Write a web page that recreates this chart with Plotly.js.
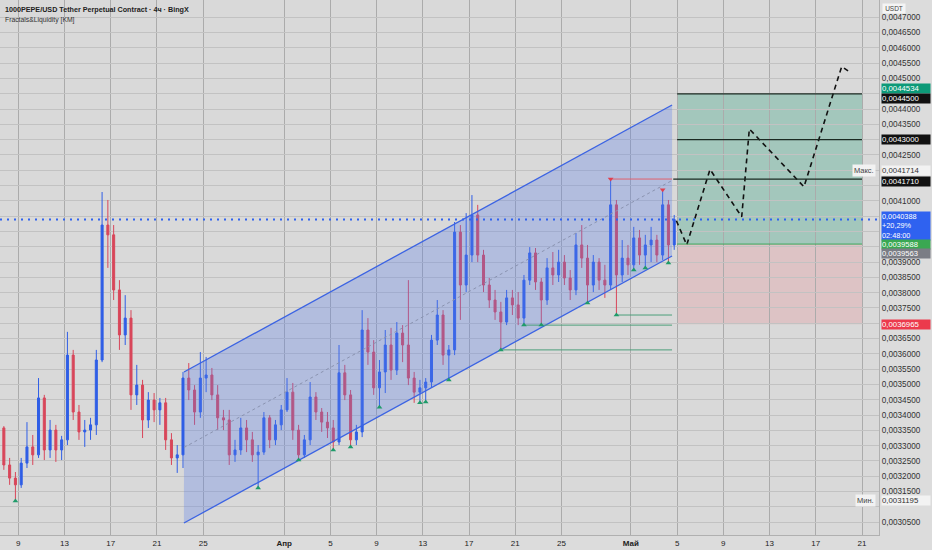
<!DOCTYPE html>
<html>
<head>
<meta charset="utf-8">
<script src="https://cdn.plot.ly/plotly-3.0.1.min.js"></script>
<style>
  html, body { margin: 0; padding: 0; background: #dcdcdc; }
  #chart { width: 932px; height: 550px; }
</style>
</head>
<body>
<div id="chart"></div>
<script>
// ---- 12h candles (first candle centred on 2025-03-07 18:00) ----
const candleStart = '2025-03-07 18:00';
const candleHours = 12;

const o = [
0.003358,0.003237,0.003194,0.003172,0.003243,0.003296,0.003270,0.003456,0.003286,0.003351,
0.003286,0.003319,0.003596,0.003410,0.003345,0.003351,0.003368,0.003580,0.004021,0.003989,
0.003809,0.003662,0.003717,0.003466,0.003498,0.003384,0.003449,0.003417,0.003440,0.003319,
0.003260,0.003270,0.003521,0.003482,0.003410,0.003521,0.003531,0.003466,0.003391,0.003384,
0.003270,0.003286,0.003358,0.003319,0.003270,0.003279,0.003391,0.003319,0.003368,0.003417,
0.003475,0.003351,0.003270,0.003319,0.003459,0.003410,0.003377,0.003358,0.003312,0.003538,
0.003466,0.003319,0.003345,0.003678,0.003606,0.003489,0.003541,0.003629,0.003547,0.003668,
0.003629,0.003521,0.003475,0.003489,0.003508,0.003645,0.003727,0.003596,0.003613,0.003998,
0.003825,0.003923,0.004054,0.003923,0.003825,0.003776,0.003737,0.003704,0.003783,0.003760,
0.003717,0.003841,0.003930,0.003835,0.003776,0.003881,0.003858,0.003900,0.003848,0.003809,
0.003956,0.003913,0.003825,0.003900,0.003841,0.003825,0.004087,0.003858,0.003913,0.003891,
0.003979,0.003923,0.003956,0.003972,0.003923,0.004087,0.003956];
const h = [
0.003364,0.003260,0.003214,0.003260,0.003377,0.003335,0.003521,0.003466,0.003384,0.003368,
0.003332,0.003672,0.003613,0.003433,0.003384,0.003391,0.003613,0.004129,0.004103,0.004021,
0.003841,0.003792,0.003743,0.003564,0.003515,0.003475,0.003472,0.003456,0.003456,0.003341,
0.003302,0.003541,0.003570,0.003498,0.003606,0.003590,0.003554,0.003498,0.003417,0.003417,
0.003319,0.003391,0.003384,0.003345,0.003302,0.003410,0.003400,0.003384,0.003433,0.003521,
0.003505,0.003368,0.003335,0.003508,0.003475,0.003423,0.003410,0.003384,0.003629,0.003564,
0.003482,0.003368,0.003743,0.003717,0.003645,0.003580,0.003678,0.003685,0.003704,0.003694,
0.003841,0.003541,0.003515,0.003521,0.003662,0.003776,0.003743,0.003629,0.004031,0.004021,
0.004060,0.004119,0.004087,0.003940,0.003848,0.003809,0.003770,0.003809,0.003809,0.003802,
0.003858,0.003949,0.003946,0.003848,0.003913,0.003933,0.003940,0.003923,0.003874,0.003995,
0.004021,0.003956,0.003923,0.003913,0.003891,0.0041714,0.004103,0.003972,0.003956,0.004015,
0.004005,0.003989,0.004015,0.003989,0.004136,0.004103,0.004054];
const l = [
0.003221,0.003172,0.0031195,0.003162,0.003227,0.003237,0.003260,0.003253,0.003260,0.003247,
0.003253,0.003302,0.003384,0.003319,0.003296,0.003319,0.003335,0.003573,0.003881,0.003776,
0.003613,0.003629,0.003417,0.003433,0.003325,0.003358,0.003377,0.003368,0.003286,0.003237,
0.003211,0.003227,0.003449,0.003368,0.003391,0.003475,0.003449,0.003351,0.003351,0.003237,
0.003247,0.003270,0.003279,0.003247,0.003162,0.003270,0.003292,0.003302,0.003351,0.003410,
0.003319,0.003253,0.003260,0.003302,0.003384,0.003345,0.003325,0.003286,0.003302,0.003449,
0.003296,0.003302,0.003328,0.003564,0.003466,0.003426,0.003472,0.003515,0.003531,0.003573,
0.003498,0.003440,0.003440,0.003443,0.003489,0.003629,0.003564,0.003515,0.003596,0.003711,
0.003802,0.003900,0.003900,0.003802,0.003750,0.003711,0.003613,0.003694,0.003727,0.003694,
0.003694,0.003825,0.003809,0.003694,0.003760,0.003825,0.003835,0.003825,0.003776,0.003792,
0.003881,0.003766,0.003802,0.003809,0.003783,0.003809,0.003727,0.003835,0.003858,0.003874,
0.003891,0.003881,0.003900,0.003900,0.003907,0.003897,0.003940];
const c = [
0.003237,0.003194,0.003172,0.003243,0.003296,0.003270,0.003456,0.003286,0.003351,0.003286,
0.003319,0.003596,0.003410,0.003345,0.003351,0.003368,0.003580,0.004021,0.003989,0.003809,
0.003662,0.003717,0.003466,0.003498,0.003384,0.003449,0.003417,0.003440,0.003319,0.003260,
0.003270,0.003521,0.003482,0.003410,0.003521,0.003531,0.003466,0.003391,0.003384,0.003270,
0.003286,0.003358,0.003319,0.003270,0.003279,0.003391,0.003319,0.003368,0.003417,0.003475,
0.003351,0.003270,0.003319,0.003459,0.003410,0.003377,0.003358,0.003312,0.003538,0.003466,
0.003319,0.003345,0.003678,0.003606,0.003489,0.003541,0.003629,0.003547,0.003668,0.003629,
0.003521,0.003475,0.003489,0.003508,0.003645,0.003727,0.003596,0.003613,0.003998,0.003825,
0.003923,0.004054,0.003923,0.003825,0.003776,0.003737,0.003704,0.003783,0.003760,0.003717,
0.003841,0.003930,0.003835,0.003776,0.003881,0.003858,0.003900,0.003848,0.003809,0.003956,
0.003913,0.003825,0.003900,0.003841,0.003825,0.004087,0.003858,0.003913,0.003891,0.003979,
0.003923,0.003956,0.003972,0.003923,0.004087,0.003956,0.0040388];

// fractal markers (indices of candles)
const fractalLows = [2, 44, 51, 57, 60, 65, 72, 73, 77, 86, 90, 93, 101, 106, 109, 111, 115];
const fractalHighs = [105, 114];
const liquidityLows = [86, 90, 106];
const liquidityHighs = [105];

// parallel channel
const channelX = ['2025-03-23 08:00', '2025-05-04 13:30'];
const channelUpper = [0.0035408, 0.0044134];
const channelLower = [0.0030473, 0.0039199];
const channelMid = [0.0032940, 0.0041667];

// long position
const longStart = '2025-05-05 00:00';
const longEnd = '2025-05-21 00:00';
const entryPrice = 0.0039588;
const targetPrice = 0.0044500;
const stopPrice = 0.0036965;
const levelPrices = [0.0044500, 0.0043000, 0.0041710];

// projected path
const pathX = ['2025-05-04 22:30','2025-05-05 20:00','2025-05-07 20:20','2025-05-10 14:10','2025-05-11 06:00','2025-05-15 23:30','2025-05-19 05:45','2025-05-19 19:00'];
const pathY = [0.004035, 0.003956, 0.004203, 0.004048, 0.004335, 0.004146, 0.004539, 0.004525];

const lastPrice = 0.0040388;

// axis ticks
const tickDates = ['2025-03-09','2025-03-13','2025-03-17','2025-03-21','2025-03-25','2025-04-01','2025-04-05','2025-04-09','2025-04-13','2025-04-17','2025-04-21','2025-04-25','2025-05-01','2025-05-05','2025-05-09','2025-05-13','2025-05-17','2025-05-21'];
const tickLabels = ['9','13','17','21','25','<b>Апр</b>','5','9','13','17','21','25','<b>Май</b>','5','9','13','17','21'];
const priceTicks = [0.00305,0.00310,0.00315,0.00320,0.00325,0.00330,0.00335,0.00340,0.00345,0.00350,
  0.00355,0.00360,0.00365,0.00370,0.00375,0.00380,0.00385,0.00390,0.00395,0.00400,
  0.00405,0.00410,0.00415,0.00420,0.00425,0.00430,0.00435,0.00440,0.00445,0.00450,
  0.00455,0.00460,0.00465,0.00470];
// tick labels hidden behind the price labels on the scale
const coveredTicks = [0.00310, 0.00370, 0.00395, 0.00400, 0.00405, 0.00415, 0.00430, 0.00445];

// ---- build ----
function fmt(ms) {
  return new Date(ms).toISOString().slice(0, 16).replace('T', ' ');
}
const t0 = Date.parse(candleStart.replace(' ', 'T') + ':00Z');
const times = o.map((_, i) => fmt(t0 + i * candleHours * 3600000));
const priceTickText = priceTicks.map(p =>
  coveredTicks.some(q => Math.abs(q - p) < 1e-9) ? '' : p.toFixed(7).replace('.', ','));

const traces = [];
traces.push({
  type: 'scatter', mode: 'lines',
  x: [channelX[0], channelX[1], channelX[1], channelX[0], channelX[0]],
  y: [channelLower[0], channelLower[1], channelUpper[1], channelUpper[0], channelLower[0]],
  fill: 'toself', fillcolor: 'rgba(90,125,235,0.30)',
  line: {width: 0}, hoverinfo: 'skip'
});
traces.push({type:'scatter', mode:'lines', x: channelX, y: channelUpper, line:{color:'#3b63e3', width:1.3}, hoverinfo:'skip'});
traces.push({type:'scatter', mode:'lines', x: channelX, y: channelLower, line:{color:'#3b63e3', width:1.3}, hoverinfo:'skip'});
traces.push({type:'scatter', mode:'lines', x: channelX, y: channelMid, line:{color:'#8a93b0', width:1, dash:'3px,3px'}, hoverinfo:'skip'});

liquidityLows.forEach(i => traces.push({
  type:'scatter', mode:'lines', x:[times[i], channelX[1]], y:[l[i], l[i]],
  line:{color:'#4c9f7a', width:1}, hoverinfo:'skip'
}));
liquidityHighs.forEach(i => traces.push({
  type:'scatter', mode:'lines', x:[times[i], channelX[1]], y:[h[i], h[i]],
  line:{color:'#e0606e', width:1}, hoverinfo:'skip'
}));

traces.push({
  type: 'candlestick', x: times, open: o, high: h, low: l, close: c,
  increasing: {line: {color: '#2f5ee6', width: 1}, fillcolor: '#2f5ee6'},
  decreasing: {line: {color: '#d8465a', width: 1}, fillcolor: '#d8465a'},
  whiskerwidth: 0, hoverinfo: 'skip'
});

traces.push({
  type:'scatter', mode:'markers',
  x: fractalLows.map(i => times[i]), y: fractalLows.map(i => l[i]),
  marker:{symbol:'triangle-up', size:5, color:'#1f9b6a'}, hoverinfo:'skip'
});
traces.push({
  type:'scatter', mode:'markers',
  x: fractalHighs.map(i => times[i]), y: fractalHighs.map(i => h[i]),
  marker:{symbol:'triangle-down', size:5, color:'#e0404f'}, hoverinfo:'skip'
});

traces.push({
  type:'scatter', mode:'lines', x: pathX, y: pathY,
  line:{color:'#111', width:1.6, dash:'5px,4px'}, hoverinfo:'skip'
});

const shapes = [
  {type:'rect', layer:'below', xref:'x', yref:'y', x0:longStart, x1:longEnd, y0:entryPrice, y1:targetPrice,
   fillcolor:'rgba(20,150,110,0.27)', line:{width:0}},
  {type:'rect', layer:'below', xref:'x', yref:'y', x0:longStart, x1:longEnd, y0:stopPrice, y1:entryPrice,
   fillcolor:'rgba(240,80,95,0.16)', line:{width:0}},
  {type:'line', xref:'x', yref:'y', x0:longStart, x1:longEnd, y0:entryPrice, y1:entryPrice, line:{color:'#3aa85a', width:1}},
  {type:'line', xref:'paper', yref:'y', x0:0, x1:1, y0:lastPrice, y1:lastPrice, line:{color:'#2f62f0', width:2, dash:'2px,5px'}}
];
levelPrices.forEach((p, i) => shapes.push({
  type:'line', xref:'x', yref:'y', x0: i === 2 ? '2025-05-04 16:00' : longStart, x1:longEnd, y0:p, y1:p,
  line:{color:'#1b2a22', width:1.2}
}));

const FONT = 'Liberation Sans, Arial, sans-serif';
function axisLabel(y, text, bg, col, yshift, size) {
  return {xref:'paper', yref:'y', x:1, y:y, xanchor:'left', yanchor:'middle', xshift:2, yshift:yshift||0,
    text:text, showarrow:false, align:'left', width:48, bgcolor:bg, borderpad:0,
    font:{family:FONT, size:size||7.8, color:col}};
}
const annotations = [
  {xref:'paper', yref:'paper', x:0, y:1, xanchor:'left', yanchor:'top', xshift:3, yshift:-3, showarrow:false,
   text:'<b>1000PEPE/USD Tether Perpetual Contract · 4ч · BingX</b>', font:{family:FONT, size:7.2, color:'#222'}},
  {xref:'paper', yref:'paper', x:0, y:1, xanchor:'left', yanchor:'top', xshift:3, yshift:-14, showarrow:false,
   text:'Fractals&Liquidity [KM]', font:{family:FONT, size:6.8, color:'#333'}},
  {xref:'paper', yref:'paper', x:1, y:1, xanchor:'left', yanchor:'top', xshift:3, yshift:-3, showarrow:false,
   text:'USDT', width:20, bgcolor:'#f4f4f4', borderpad:1, font:{family:FONT, size:6.5, color:'#444'}},
  axisLabel(0.0044534, '0,0044534', '#0d9a78', '#fff', 4),
  axisLabel(0.0044500, '0,0044500', '#111', '#fff', -5),
  axisLabel(0.0043000, '0,0043000', '#111', '#fff', 0),
  axisLabel(0.0041714, '0,0041714', '#f2f2f2', '#333', 9),
  axisLabel(0.0041710, '0,0041710', '#111', '#fff', -2),
  axisLabel(lastPrice, '0,0040388<br>+20,29%<br>02:48:00', '#2f62f0', '#fff', -6, 7.3),
  axisLabel(entryPrice, '0,0039588', '#3aa852', '#fff', 0, 7.6),
  axisLabel(0.0039563, '0,0039563', '#7b7d85', '#fff', -8.5, 7.6),
  axisLabel(stopPrice, '0,0036965', '#ec3a4c', '#fff', 0),
  axisLabel(0.0031195, '0,0031195', '#f2f2f2', '#333', 0),
  {xref:'paper', yref:'y', x:1, y:0.0041714, yshift:9, xanchor:'right', xshift:-3, showarrow:false,
   text:'Макс.', bgcolor:'#f2f2f2', borderpad:1, font:{family:FONT, size:7.5, color:'#444'}},
  {xref:'paper', yref:'y', x:1, y:0.0031195, xanchor:'right', xshift:-3, showarrow:false,
   text:'Мин.', bgcolor:'#f2f2f2', borderpad:1, font:{family:FONT, size:7.5, color:'#444'}}
];

const layout = {
  width: 932, height: 550,
  margin: {l: 0, r: 53, t: 0, b: 15, pad: 0},
  paper_bgcolor: '#dcdcdc',
  plot_bgcolor: '#d9d9d9',
  separators: ', ',
  showlegend: false,
  boxgap: 0.5,
  font: {family: FONT},
  xaxis: {
    type: 'date', range: ['2025-03-07 10:00', '2025-05-22 11:15'],
    tickvals: tickDates, ticktext: tickLabels,
    tickfont: {family: FONT, size: 8, color: '#222'},
    showgrid: true, gridcolor: '#ababab', gridwidth: 1,
    zeroline: false, showline: true, linecolor: '#b0b0b0', ticks: '',
    rangeslider: {visible: false}, fixedrange: true
  },
  yaxis: {
    side: 'right', range: [0.0030081, 0.0047565],
    tickmode: 'array', tickvals: priceTicks, ticktext: priceTickText,
    tickfont: {family: FONT, size: 8.2, color: '#333'},
    showgrid: true, gridcolor: '#c2c2c2', gridwidth: 1,
    zeroline: false, showline: true, linecolor: '#b0b0b0', ticks: '', ticklen: 0,
    fixedrange: true
  },
  shapes: shapes,
  annotations: annotations
};

Plotly.newPlot('chart', traces, layout, {staticPlot: true, displayModeBar: false});
</script>
</body>
</html>
